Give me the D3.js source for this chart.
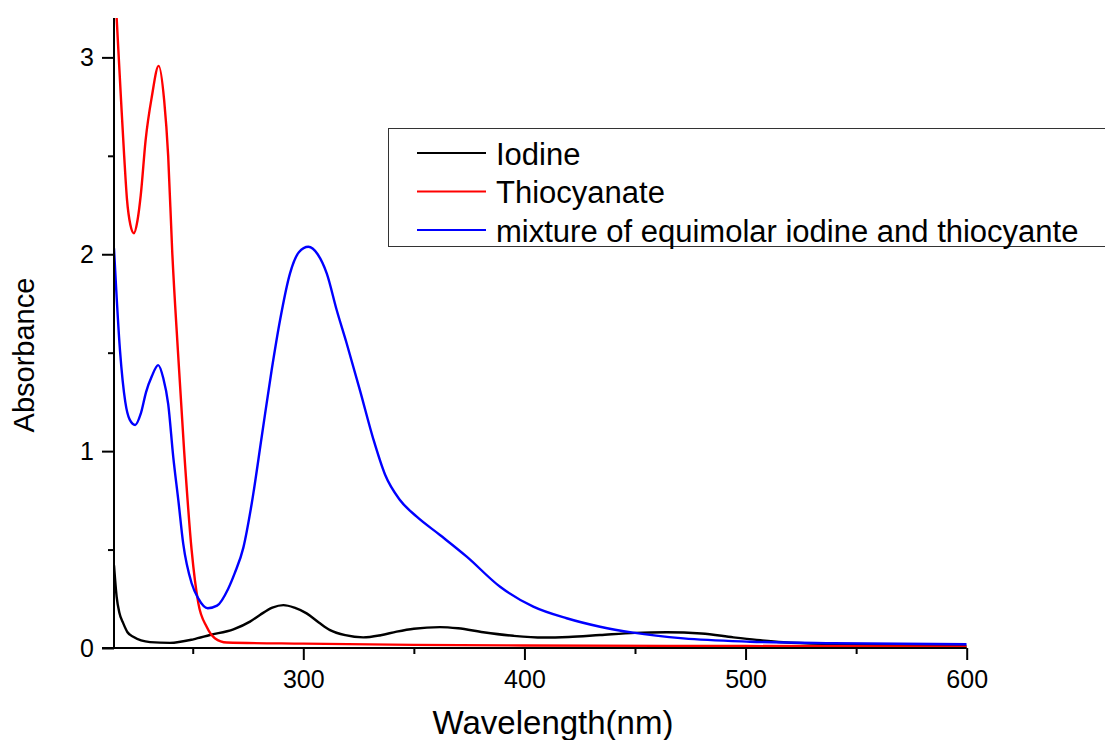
<!DOCTYPE html>
<html>
<head>
<meta charset="utf-8">
<script src="https://cdn.jsdelivr.net/npm/d3@7"></script>
<style>
  html, body { margin: 0; padding: 0; background: #fff; }
  svg { display: block; }
  text { font-family: "Liberation Sans", Arial, sans-serif; fill: #000; }
</style>
</head>
<body>
<svg id="chart" width="1105" height="740"></svg>
<script>
// UV-Vis absorption spectra: wavelength (nm) and absorbance per sample
const iodineWl  = [214.4, 215.6, 216.8, 218.6, 220.5, 223.1, 230.7, 239.7, 250.3, 257.8, 268.4, 275.9, 280.4, 286, 291, 296, 301.5, 307, 312.1, 319, 327.1, 335, 342.2, 350, 361.8, 370, 381.4, 395, 408.5, 420, 434.2, 450, 464.3, 480, 494.5, 505, 517.1, 539.7, 570, 600];
const iodineAbs = [0.42, 0.26, 0.18, 0.125, 0.08, 0.057, 0.03, 0.026, 0.044, 0.066, 0.095, 0.134, 0.168, 0.205, 0.218, 0.205, 0.176, 0.13, 0.091, 0.065, 0.054, 0.065, 0.083, 0.098, 0.106, 0.1, 0.08, 0.062, 0.053, 0.056, 0.066, 0.077, 0.08, 0.074, 0.054, 0.041, 0.029, 0.02, 0.015, 0.01];

const thioWl  = [214.4, 215.6, 217.6, 219.0, 220.3, 221.8, 223.4, 225.0, 226.5, 228.7, 231.5, 234.6, 237.1, 238.9, 240.7, 243.3, 246.1, 249.5, 252.5, 256.3, 260, 265.4, 300, 350, 400, 500, 600];
const thioAbs = [3.45, 3.2, 2.78, 2.5, 2.275, 2.15, 2.107, 2.17, 2.3, 2.58, 2.80, 2.957, 2.78, 2.50, 2.02, 1.51, 1.004, 0.498, 0.229, 0.108, 0.05, 0.028, 0.022, 0.016, 0.013, 0.01, 0.007];

const mixWl  = [214.4, 217.1, 219.5, 221.5, 224.0, 226.5, 228.9, 231.5, 234.4, 236.7, 238.9, 241.2, 243.5, 245.7, 249.5, 252.5, 256.8, 261, 266, 269, 272.9, 276.7, 281.2, 285.7, 289.5, 294.0, 298, 302.3, 306.5, 310.6, 315.1, 319.6, 325.6, 331.7, 337, 343.7, 351.3, 361.8, 373.9, 389.0, 404.0, 419.1, 434.2, 449.2, 471.9, 502.0, 540, 600];
const mixAbs = [2.03, 1.513, 1.25, 1.16, 1.133, 1.19, 1.30, 1.38, 1.437, 1.37, 1.24, 0.97, 0.75, 0.53, 0.329, 0.252, 0.202, 0.215, 0.30, 0.38, 0.51, 0.735, 1.073, 1.412, 1.666, 1.903, 2.01, 2.038, 2.0, 1.903, 1.717, 1.548, 1.31, 1.06, 0.88, 0.752, 0.667, 0.574, 0.464, 0.311, 0.21, 0.151, 0.108, 0.078, 0.049, 0.032, 0.024, 0.019];

const seriesNames  = ["Iodine", "Thiocyanate", "mixture of equimolar iodine and thiocyante"];
const seriesColors = ["#000000", "#ff0000", "#0000ff"];

const xTicks = [300, 400, 500, 600];
const xMinorTicks = [250, 350, 450, 550];
const yTicks = [0, 1, 2, 3];
const yMinorTicks = [0.5, 1.5, 2.5];

const series = [
  { name: seriesNames[0], color: seriesColors[0], pts: iodineWl.map((w, i) => [w, iodineAbs[i]]) },
  { name: seriesNames[1], color: seriesColors[1], pts: thioWl.map((w, i) => [w, thioAbs[i]]) },
  { name: seriesNames[2], color: seriesColors[2], pts: mixWl.map((w, i) => [w, mixAbs[i]]) }
];

const svg = d3.select("#chart");
const plot = { left: 114, right: 966.7, top: 18, bottom: 648 };

const x = d3.scaleLinear().domain([214.4, 600]).range([plot.left, plot.right]);
const y = d3.scaleLinear().domain([0, 3.2]).range([plot.bottom, plot.top]);

svg.append("defs").append("clipPath").attr("id", "plotClip")
  .append("rect")
  .attr("x", plot.left).attr("y", plot.top)
  .attr("width", plot.right - plot.left).attr("height", plot.bottom - plot.top);

// spectra
const line = d3.line().x(d => x(d[0])).y(d => y(d[1])).curve(d3.curveMonotoneX);
const curves = svg.append("g").attr("clip-path", "url(#plotClip)");
curves.selectAll("path")
  .data(series)
  .join("path")
  .attr("d", d => line(d.pts))
  .attr("fill", "none")
  .attr("stroke", d => d.color)
  .attr("stroke-width", 2.4)
  .attr("stroke-linejoin", "round");

// x axis
const xAxis = svg.append("g").attr("transform", `translate(0,${plot.bottom})`);
xAxis.call(d3.axisBottom(x).tickValues(xTicks).tickSize(12).tickPadding(10).tickFormat(d3.format("d")));
xAxis.append("g").call(d3.axisBottom(x).tickValues(xMinorTicks).tickSize(6).tickFormat(""))
  .select(".domain").remove();
xAxis.selectAll(".domain").attr("d", `M${plot.left - 12},0H${plot.right}`);

// y axis
const yAxis = svg.append("g").attr("transform", `translate(${plot.left},0)`);
yAxis.call(d3.axisLeft(y).tickValues(yTicks).tickSize(12).tickPadding(8).tickFormat(d3.format("d")));
yAxis.append("g").call(d3.axisLeft(y).tickValues(yMinorTicks).tickSize(6).tickFormat(""))
  .select(".domain").remove();
yAxis.selectAll(".domain").attr("d", `M0,${plot.top}V${plot.bottom}`);

svg.selectAll(".domain, .tick line").attr("stroke", "#000").attr("stroke-width", 2);
svg.selectAll(".tick text").attr("font-family", "Liberation Sans, Arial, sans-serif").attr("font-size", 25).attr("fill", "#000");

// axis titles
svg.append("text")
  .attr("x", 553).attr("y", 734)
  .attr("text-anchor", "middle")
  .attr("font-size", 33)
  .text("Wavelength(nm)");

svg.append("text")
  .attr("transform", "translate(34,355) rotate(-90)")
  .attr("text-anchor", "middle")
  .attr("font-size", 29)
  .text("Absorbance");

// legend
const legend = svg.append("g");
legend.append("rect")
  .attr("x", 388.5).attr("y", 128.5)
  .attr("width", 740).attr("height", 118)
  .attr("fill", "#fff").attr("stroke", "#333").attr("stroke-width", 1);

const rows = legend.selectAll("g.row").data(series).join("g")
  .attr("class", "row")
  .attr("transform", (d, i) => `translate(0,${153 + i * 38.5})`);
rows.append("line")
  .attr("x1", 417).attr("x2", 486).attr("y1", 0).attr("y2", 0)
  .attr("stroke", d => d.color).attr("stroke-width", 2);
rows.append("text")
  .attr("x", 496).attr("y", 11.5)
  .attr("font-size", 31)
  .text(d => d.name);
</script>
</body>
</html>
